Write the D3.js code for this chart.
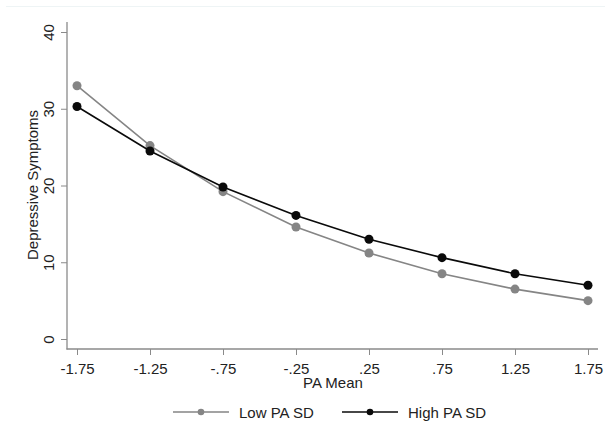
<!DOCTYPE html>
<html><head><meta charset="utf-8">
<script src="https://cdn.jsdelivr.net/npm/d3@7/dist/d3.min.js"></script>
<style>
body{margin:0;background:#fff;}
text{font-family:"Liberation Sans",Arial,sans-serif;}
</style></head>
<body><svg id="c" width="605" height="446"></svg>
<script>
const paMean = [-1.75, -1.25, -0.75, -0.25, 0.25, 0.75, 1.25, 1.75];
const xTickLabels = ["-1.75", "-1.25", "-.75", "-.25", ".25", ".75", "1.25", "1.75"];
const lowPASD = [33.0, 25.2, 19.2, 14.6, 11.2, 8.5, 6.5, 5.0];
const highPASD = [30.3, 24.5, 19.8, 16.1, 13.0, 10.6, 8.5, 7.0];
const yTicks = [0, 10, 20, 30, 40];
const seriesNames = ["Low PA SD", "High PA SD"];

const svg = d3.select("#c");
const x = d3.scaleLinear().domain([-1.75, 1.75]).range([77, 588]);
const y = d3.scaleLinear().domain([0, 40]).range([339, 32]);
const axisColor = "#8a8a8a";
const fontSize = 15;

// faint top border
svg.append("line").attr("x1", 6).attr("x2", 605).attr("y1", 6.5).attr("y2", 6.5)
  .attr("stroke", "#eef4f5").attr("stroke-width", 1);

// y axis
const yAxis = svg.append("g").attr("transform", "translate(67,0)")
  .call(d3.axisLeft(y).tickValues(yTicks).tickSize(6).tickPadding(0).tickFormat(d3.format("d")));
yAxis.select(".domain").remove();
yAxis.selectAll(".tick line").attr("stroke", axisColor);
yAxis.selectAll(".tick text").attr("transform", "rotate(-90)")
  .attr("x", 0).attr("y", -13).attr("dy", 0).attr("text-anchor", "middle")
  .attr("font-size", fontSize).attr("fill", "#222");
svg.append("line").attr("x1", 67).attr("x2", 67).attr("y1", 22).attr("y2", 349.5)
  .attr("stroke", axisColor).attr("stroke-width", 1.3);

// x axis
const xAxis = svg.append("g").attr("transform", "translate(0,349)")
  .call(d3.axisBottom(x).tickValues(paMean).tickSize(6).tickPadding(0)
    .tickFormat((d, i) => xTickLabels[i]));
xAxis.select(".domain").remove();
xAxis.selectAll(".tick line").attr("stroke", axisColor);
xAxis.selectAll(".tick text").attr("y", 24.5).attr("dy", 0)
  .attr("font-size", fontSize).attr("fill", "#222");
svg.append("line").attr("x1", 66.5).attr("x2", 598).attr("y1", 349).attr("y2", 349)
  .attr("stroke", axisColor).attr("stroke-width", 1.3);

// titles
svg.append("text").attr("x", 333).attr("y", 387.5).attr("text-anchor", "middle")
  .attr("font-size", fontSize).attr("fill", "#222").text("PA Mean");
svg.append("text").attr("transform", "translate(38,185) rotate(-90)")
  .attr("text-anchor", "middle").attr("font-size", fontSize).attr("fill", "#222")
  .text("Depressive Symptoms");

// series
const series = [
  {name: seriesNames[0], vals: lowPASD, color: "#858585"},
  {name: seriesNames[1], vals: highPASD, color: "#0a0a0a"}
];
const line = d3.line().x((d, i) => x(paMean[i])).y(d => y(d));
series.forEach(s => {
  svg.append("path").datum(s.vals).attr("d", line).attr("fill", "none")
    .attr("stroke", s.color).attr("stroke-width", 1.6);
  svg.selectAll(null).data(s.vals).enter().append("circle")
    .attr("cx", (d, i) => x(paMean[i])).attr("cy", d => y(d)).attr("r", 4.5)
    .attr("fill", s.color);
});

// legend
const legendX = [173, 342];
series.forEach((s, i) => {
  const lx = legendX[i], ly = 412;
  svg.append("line").attr("x1", lx).attr("x2", lx + 56).attr("y1", ly).attr("y2", ly)
    .attr("stroke", s.color).attr("stroke-width", 1.6);
  svg.append("circle").attr("cx", lx + 28).attr("cy", ly).attr("r", 3.3).attr("fill", s.color);
  svg.append("text").attr("x", lx + 66).attr("y", ly + 5.5).attr("font-size", fontSize)
    .attr("fill", "#222").text(s.name);
});
</script></body></html>
